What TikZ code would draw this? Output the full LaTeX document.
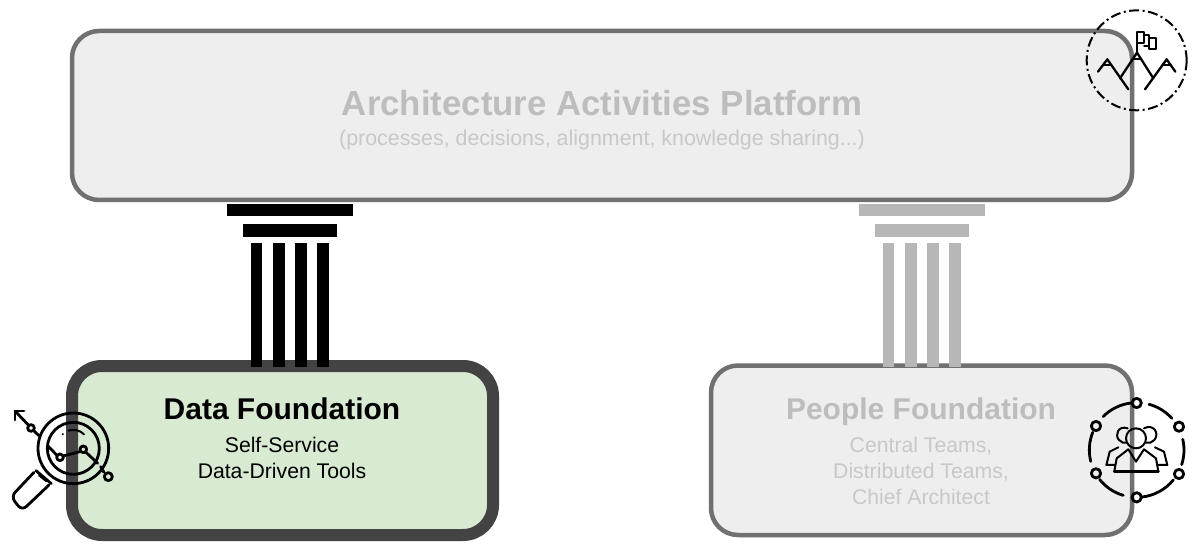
\documentclass[tikz,border=0pt]{standalone}
\usepackage{fontspec}
\setmainfont{Liberation Sans}
\definecolor{platborder}{HTML}{707070}
\definecolor{platfill}{HTML}{EEEEEE}
\definecolor{fadetext}{HTML}{BDBDBD}
\definecolor{fadesub}{HTML}{C8C8C8}
\definecolor{pillarfade}{HTML}{B7B7B7}
\definecolor{databorder}{HTML}{434343}
\definecolor{datafill}{HTML}{D9EAD3}
\tikzset{
  platbox/.style={draw=platborder,fill=platfill,line width=4.5pt,rounded corners=27pt},
  databox/.style={draw=databorder,fill=datafill,line width=12pt,rounded corners=30pt},
  label/.style={inner sep=0pt,align=center,anchor=base},
  bodytext/.style={label,font=\fontsize{21.2}{26}\selectfont},
  headtext/.style={label,font=\fontsize{30}{34}\selectfont\bfseries},
  iconline/.style={draw=black,line width=2.8pt,line cap=round,line join=round},
  peakline/.style={draw=black,line width=2.3pt,line cap=round,line join=round},
  iconfine/.style={draw=black,line width=2pt,line cap=round,line join=round},
  zoomed/.style={x=0.3333pt,y=-0.3333pt},
}
\newcommand{\pillar}[2]{%
  \fill[#2] (#1+227,204) rectangle (#1+353,216.5);
  \fill[#2] (#1+243,224) rectangle (#1+337,237);
  \fill[#2] (#1+251,243) rectangle (#1+262,367);
  \fill[#2] (#1+273,243) rectangle (#1+285,367);
  \fill[#2] (#1+295,243) rectangle (#1+306.5,367);
  \fill[#2] (#1+317,243) rectangle (#1+328.5,367);
}
\newcommand{\ringarc}[2]{\draw[iconline] (185,180) ++(#1:142) arc[start angle=#1,end angle=#2,radius=142];}
\begin{document}
\begin{tikzpicture}[x=1pt,y=-1pt]
\useasboundingbox (0,0) rectangle (1196,553);
\fill[white] (0,0) rectangle (1196,553);
% boxes
\draw[platbox] (72,31) rectangle (1132,200);
\draw[databox] (72,366) rectangle (493,535);
\draw[platbox] (711,365.5) rectangle (1132,535);
% pillars
\pillar{0}{black}
\pillar{632}{pillarfade}
% labels
\node[label,text=fadetext,font=\fontsize{34.8}{40}\selectfont\bfseries] (plat) at (602,116) {Architecture Activities Platform};
\node[label,text=fadesub,font=\fontsize{21.4}{26}\selectfont] (platsub) at (602,146) {(processes, decisions, alignment, knowledge sharing...)};
\node[headtext,text=black] (data) at (282,419) {Data Foundation};
\node[bodytext,text=black,anchor=north] (datasub) at (282,436.5) {Self-Service\\Data-Driven Tools};
\node[headtext,text=fadetext] (people) at (921,419) {People Foundation};
\node[bodytext,text=fadesub,anchor=north] (peoplesub) at (921,436.5) {Central Teams,\\Distributed Teams,\\Chief Architect};
% mountain icon
\begin{scope}[shift={(1070,0)},zoomed]
  \draw[black,line width=2pt,dash pattern=on 10pt off 3.5pt on 2pt off 3.5pt] (200,181) circle[radius=150];
  \draw[iconfine] (201,155) -- (201,97) -- (222,97) -- (222,130) -- (201,130);
  \draw[iconfine] (222,106) -- (238,106) -- (238,137) -- (222,137);
  \draw[iconfine] (238,115) -- (258,115) -- (258,146) -- (238,146) -- (238,137);
  \draw[peakline] (150,235) -- (201,158) -- (250,235);
  \draw[iconfine] (188,178) -- (214,178);
  \draw[peakline] (84,215) -- (112,178) -- (175,268);
  \draw[iconfine] (100,195) -- (124,195);
  \draw[peakline] (316,215) -- (290,178) -- (225,268);
  \draw[iconfine] (278,195) -- (303,195);
\end{scope}
% magnifier icon
\begin{scope}[shift={(0,395)},zoomed]
  \draw[iconline] (220,160) circle[radius=106];
  \draw[iconline] (220,160) circle[radius=78];
  \draw[iconline] (45,48) -- (85,90);
  \draw[iconline] (45,75) -- (45,48) -- (72,48);
  \draw[iconline] (93,99) circle[radius=10];
  \draw[iconline] (101,107) -- (117,122);
  \draw[iconline] (144,153) -- (170,180);
  \draw[iconline] (180,187) circle[radius=10];
  \draw[iconline] (190,183) -- (240,170);
  \draw[iconline] (250,163) circle[radius=10];
  \draw[iconline] (258,172) -- (293,205);
  \draw[iconline] (302,215) -- (312,232);
  \draw[iconline] (325,245) circle[radius=12];
  \draw[iconfine] (205,107) .. controls (220,102) and (240,105) .. (252,118);
  \draw[iconfine] (188,117) -- (189,118);
  \draw[iconline] (108,227) -- (154,266);
  \draw[iconline] (118,240) -- (140,258);
  \draw[iconline,rounded corners=6pt] (102,232) -- (33,305) -- (66,347) -- (147,270);
\end{scope}
% people icon
\begin{scope}[shift={(1075,390)},zoomed]
  \draw[iconline] (185,39) circle[radius=14];
  \draw[iconline] (63,108) circle[radius=14];
  \draw[iconline] (312,110) circle[radius=14];
  \draw[iconline] (63,250) circle[radius=14];
  \draw[iconline] (312,252) circle[radius=14];
  \draw[iconline] (185,322) circle[radius=14];
  \ringarc{-97}{-135}
  \ringarc{-75}{-42}
  \ringarc{-158}{-194}
  \ringarc{-13}{18}
  \ringarc{141.5}{106.5}
  \ringarc{84}{39}
  \draw[iconfine] (183,145) circle[radius=30];
  \draw[iconfine] (207,115) .. controls (235,100) and (255,130) .. (238,150) .. controls (232,158) and (222,160) .. (212,158);
  \draw[iconfine] (158,115) .. controls (130,105) and (118,135) .. (132,150) .. controls (138,158) and (148,160) .. (156,158);
  \draw[iconline] (118,244) -- (250,244);
  \draw[iconfine] (118,244) -- (125,205) -- (160,178) -- (183,215) -- (207,178) -- (243,205) -- (250,244);
  \draw[iconfine] (118,225) -- (94,225) -- (104,185) -- (130,172);
  \draw[iconfine] (250,225) -- (277,225) -- (267,185) -- (240,172);
\end{scope}
\end{tikzpicture}
\end{document}
